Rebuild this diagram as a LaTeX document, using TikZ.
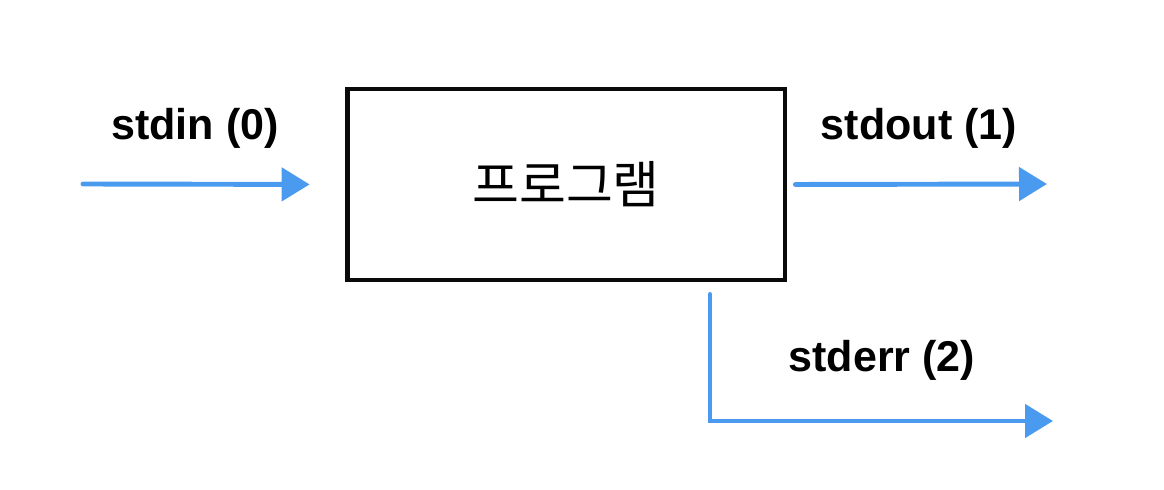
\documentclass[tikz,border=0pt]{standalone}
\usepackage{xcolor}
\usepackage{fontspec}
\setmainfont{Liberation Sans}
\newfontfamily\krfont{Noto Sans CJK KR}
\usetikzlibrary{arrows.meta}
\definecolor{StreamBlue}{HTML}{4A9BEF}
\definecolor{BoxBlack}{HTML}{0A0A0A}

\tikzset{
  flow/.style={StreamBlue, line width=2.8pt, line cap=round,
               -{Triangle[length=0.56cm, width=0.66cm]}},
  streamlabel/.style={font=\fontsize{24.5}{28}\selectfont\bfseries, inner sep=0pt}
}

\begin{document}
\begin{tikzpicture}[x=0.02cm, y=-0.02cm]
        \useasboundingbox (0,0) rectangle (1164,490);

        % the program box
        \node[draw=BoxBlack, line width=2.8pt, minimum width=8.76cm,
              minimum height=3.82cm, inner sep=0pt]
              (prog) at (566,184.5) {\krfont\fontsize{29}{32}\selectfont 프로그램};

        % free ends of the streams
        \coordinate (inStart) at (83,184);
        \coordinate (outEnd) at (1047,184);
        \coordinate (errEnd) at (1053,421);

        \draw[flow, shorten >=0.7cm] (inStart) -- (prog.west);
        \draw[flow, shorten <=0.16cm] (prog.east) -- (outEnd);
        \draw[flow] ([xshift=2.88cm, yshift=-0.24cm]prog.south) |- (errEnd);

        % stream names
        \node[streamlabel] (inLabel) at (195,128) {stdin (0)};
        \node[streamlabel] (outLabel) at (919,128) {stdout (1)};
        \node[streamlabel] (errLabel) at (882,360) {stderr (2)};
      \end{tikzpicture}
\end{document}
